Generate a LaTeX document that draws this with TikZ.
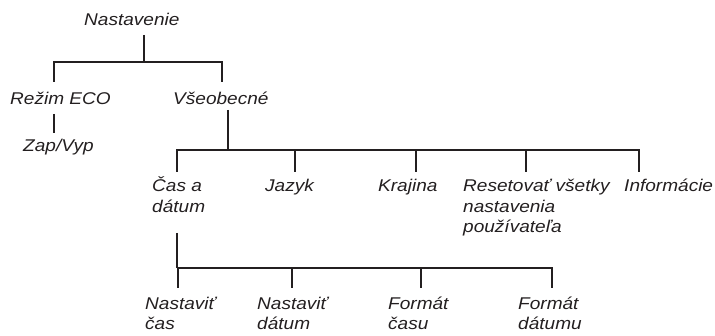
\documentclass[tikz,border=0pt]{standalone}
\usepackage{fontspec}
\setmainfont{Liberation Sans}[FakeStretch=1.12]
\usepackage{xcolor}

\definecolor{ink}{HTML}{231F20}

\tikzset{
	item/.style={anchor=base west,inner sep=0pt,align=left,text=ink,
		font=\itshape\fontsize{17}{20.5}\selectfont},
	tree/.style={draw=ink,line width=1.4pt}
}

\begin{document}
\begin{tikzpicture}[x=1pt,y=-1pt]
			\useasboundingbox (0,0) rectangle (715,336);

			\node[item] (nast) at (84,26) {Nastavenie};
			\node[item] (eco) at (10,105) {Režim ECO};
			\node[item] (zap) at (23,152) {Zap/Vyp};
			\node[item] (vseob) at (173,105) {Všeobecné};

			\node[item] (cas) at (152,212.5) {Čas a\\dátum};
			\node[item] (jazyk) at (265,192) {Jazyk};
			\node[item] (kraj) at (378,192) {Krajina};
			\node[item] (reset) at (463,233) {Resetovať všetky\\nastavenia\\používateľa};
			\node[item] (info) at (624,192) {Informácie};

			\node[item] (ncas) at (145,330) {Nastaviť\\čas};
			\node[item] (ndat) at (257,330) {Nastaviť\\dátum};
			\node[item] (fcas) at (388,330) {Formát\\času};
			\node[item] (fdat) at (518,330) {Formát\\dátumu};

			\draw[tree] ([shift={(60,9)}]nast.base west) -- ++(0,27) coordinate (b1);
			\draw[tree] (b1) -| ([shift={(44,-23)}]eco.base west);
			\draw[tree] (b1) -| ([shift={(49,-23)}]vseob.base west);
			\draw[tree] ([shift={(44,9)}]eco.base west) -- ([shift={(31,-19)}]zap.base west);

			\draw[tree] ([shift={(55,5)}]vseob.base west) -- ++(0,40) coordinate (b2);
			\foreach \n/\dx/\dy in {cas/25/-40.5,jazyk/30/-20,kraj/38/-20,reset/63/-61,info/15/-20}
				\draw[tree] (b2) -| ([shift={(\dx,\dy)}]\n.base west);

			\draw[tree] ([shift={(25,20.5)}]cas.base west) -- ++(0,35) coordinate (b3);
			\foreach \n/\dx in {ncas/33,ndat/35,fcas/33,fdat/34}
				\draw[tree] (b3) -| ([shift={(\dx,-42)}]\n.base west);
		\end{tikzpicture}
\end{document}
